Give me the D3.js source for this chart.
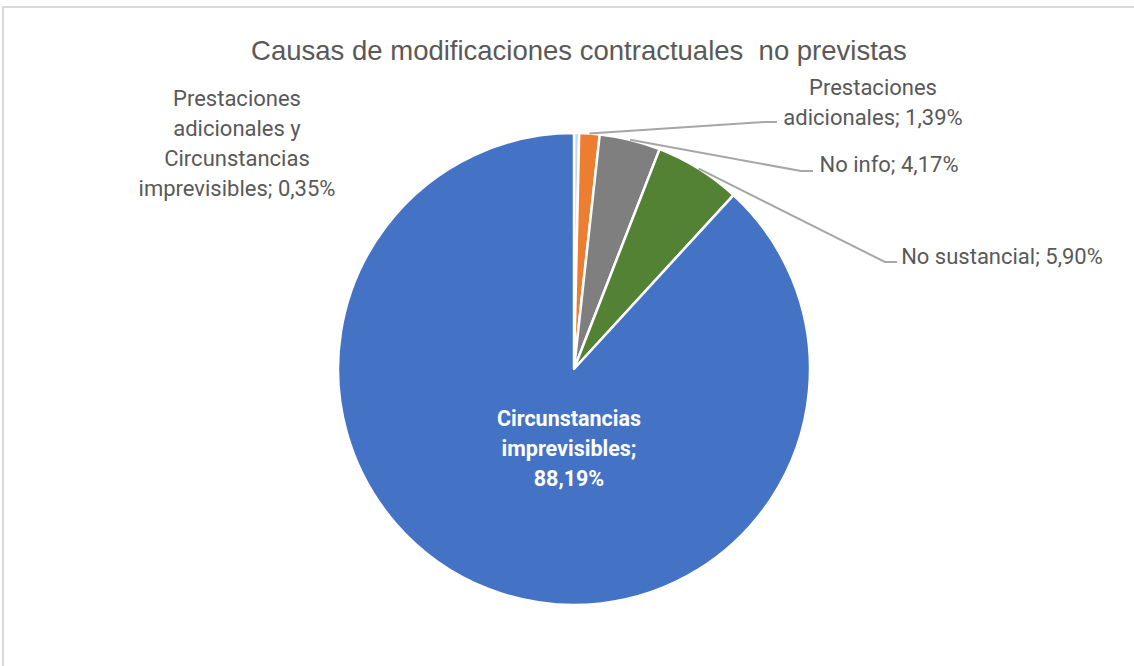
<!DOCTYPE html>
<html>
<head>
<meta charset="utf-8">
<script src="https://d3js.org/d3.v7.min.js"></script>
<style type="text/css">
body {margin:0;background:#fff;}
svg {display:block;}
.title {font-family:"Liberation Sans",Arial,sans-serif;font-size:27.5px;fill:#595959;white-space:pre;}
.lbl {font-family:Roboto,"Noto Sans",sans-serif;font-size:22px;fill:#595959;}
.inner {font-family:Roboto,"Noto Sans",sans-serif;font-size:21.5px;font-weight:bold;fill:#fff;}
</style>
</head>
<body>
<svg id="chart" width="1134" height="666"></svg>
<script type="text/javascript">
	// datos del grafico
	var categorias = ["Prestaciones adicionales y Circunstancias imprevisibles",
		"Prestaciones adicionales", "No info", "No sustancial", "Circunstancias imprevisibles"];
	var valores = [0.35, 1.39, 4.17, 5.90, 88.19];
	var colores = ["#bdd7ee", "#ed7d31", "#7f7f7f", "#548235", "#4472c4"];
	var titulo = "Causas de modificaciones contractuales  no previstas";

	// lineas de cada etiqueta y donde va
	var etiquetas = [
		{lines:["Prestaciones", "adicionales y", "Circunstancias", "imprevisibles; 0,35%"], x:237, y:98, leader:false},
		{lines:["Prestaciones", "adicionales; 1,39%"], x:873, y:87, leader:true, lx:777, ly:122},
		{lines:["No info; 4,17%"], x:889, y:164, leader:true, lx:813, ly:171},
		{lines:["No sustancial; 5,90%"], x:1002, y:256, leader:true, lx:897, ly:262},
		{lines:["Circunstancias", "imprevisibles;", "88,19%"], x:569, y:418, inner:true}
	];

	var svg = d3.select("#chart");
	var cx = 574, cy = 369, r = 236;

	// marco
	svg.append("path").attr("d", "M3,666 L3,7 L1134,7")
		.attr("fill", "none").attr("stroke", "#d9d9d9").attr("stroke-width", 2);

	svg.append("text").attr("class", "title")
		.attr("x", 579).attr("y", 60).attr("text-anchor", "middle")
		.text(titulo);

	var pie = d3.pie().sort(null).value(function(d) { return d; });
	var arcs = pie(valores);
	var arc = d3.arc().innerRadius(0).outerRadius(r);

	var g = svg.append("g").attr("transform", "translate(" + cx + "," + cy + ")");

	g.selectAll("path.slice").data(arcs).enter().append("path")
		.attr("class", "slice")
		.attr("d", arc)
		.attr("fill", function(d, i) { return colores[i]; })
		.attr("stroke", "#fff").attr("stroke-width", 2.5)
		.attr("stroke-linejoin", "round");

	// lineas guia
	arcs.forEach(function(a, i) {
		var e = etiquetas[i];
		if (!e.leader) return;
		var m = (a.startAngle + a.endAngle) / 2;
		var px = cx + r * Math.sin(m), py = cy - r * Math.cos(m);
		svg.append("polyline")
			.attr("points", px + "," + py + " " + (e.lx - 12) + "," + e.ly + " " + e.lx + "," + e.ly)
			.attr("fill", "none").attr("stroke", "#a6a6a6").attr("stroke-width", 2);
	});

	etiquetas.forEach(function(e) {
		var t = svg.append("text").attr("class", e.inner ? "inner" : "lbl")
			.attr("text-anchor", "middle");
		e.lines.forEach(function(l, k) {
			t.append("tspan").attr("x", e.x).attr("y", e.y + k * 30)
				.attr("dy", "0.35em").text(l);
		});
	});
</script>
</body>
</html>
